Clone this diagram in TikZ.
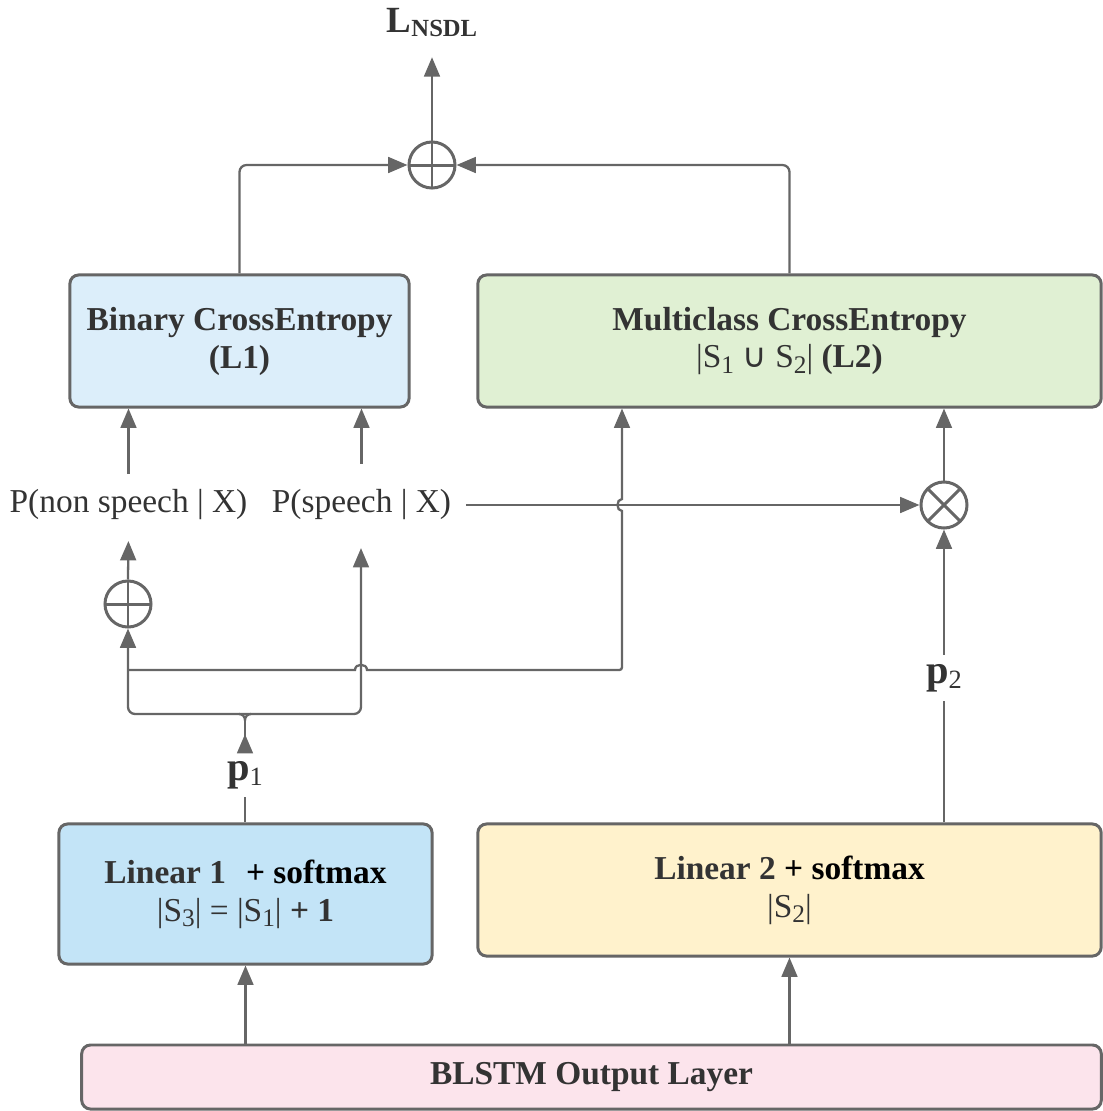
\documentclass[tikz,border=0pt]{standalone}
\usepackage{fontspec}
\setmainfont{Liberation Serif}
\newfontfamily\symfont{DejaVu Sans}
\usetikzlibrary{arrows.meta}
\definecolor{edgegray}{HTML}{666666}
\definecolor{txtgray}{HTML}{333333}
\definecolor{fillb}{HTML}{DCEEFA}
\definecolor{fillbb}{HTML}{C3E4F7}
\definecolor{fillg}{HTML}{E0F0D3}
\definecolor{filly}{HTML}{FFF2CC}
\definecolor{fillp}{HTML}{FCE4EC}
\newcommand{\subidx}[1]{\raisebox{-1.6pt}{\fontsize{7.2}{8}\selectfont #1}}
\newcommand{\plabel}[1]{{\fontsize{11.5}{12}\selectfont\bfseries p}\raisebox{-1.4pt}{\fontsize{7.5}{8}\selectfont #1}}
\tikzset{
    mybox/.style = {rectangle, rounded corners=2.5pt, line width=0.85pt, draw=edgegray, align=center, font=\fontsize{9.5}{10.8}\selectfont\bfseries, text=txtgray, inner sep=0pt},
    myboxb/.style = {mybox, fill=fillb},
    myboxbb/.style = {mybox, fill=fillbb},
    myboxg/.style = {mybox, fill=fillg},
    myboxy/.style = {mybox, fill=filly},
    myboxp/.style = {mybox, fill=fillp},
    myop/.style = {circle, line width=0.85pt, draw=edgegray, fill=white, minimum size=0.46cm, inner sep=0pt},
    myplus/.style = {myop, path picture={\draw[line width=0.85pt, edgegray] (path picture bounding box.north) -- (path picture bounding box.south) (path picture bounding box.west) -- (path picture bounding box.east);}},
    mytimes/.style = {myop, path picture={\draw[line width=0.85pt, edgegray] (path picture bounding box.north west) -- (path picture bounding box.south east) (path picture bounding box.north east) -- (path picture bounding box.south west);}},
    mytext/.style = {font=\fontsize{9.5}{11}\selectfont, text=txtgray, inner sep=4pt},
    edgen/.style = {line width=0.65pt, edgegray}
}

\begin{document}
\begin{tikzpicture}[x=0.01cm, y=-0.01cm, >={Triangle[length=5.5pt,width=4.5pt]}]
  \useasboundingbox (0,0) rectangle (1103,1111);
  % boxes
  \node[myboxb, minimum width=3.39cm, minimum height=1.32cm] (bce) at (239.5,341) {Binary CrossEntropy\\(L1)};
  \node[myboxg, minimum width=6.23cm, minimum height=1.32cm] (mce) at (789.5,341) {Multiclass CrossEntropy\\{\mdseries|S\subidx{1} {\symfont ∪} S\subidx{2}|} (L2)};
  \node[myboxbb, minimum width=3.73cm, minimum height=1.40cm] (lin1) at (245.5,894) {Linear 1\hspace{0.6em}{\color{black}+ softmax}\\{\mdseries|S\subidx{3}| = |S\subidx{1}|} + 1};
  \node[myboxy, minimum width=6.23cm, minimum height=1.32cm] (lin2) at (789.5,890) {Linear 2 {\color{black}+ softmax}\\{\mdseries|S\subidx{2}|}};
  \node[myboxp, minimum width=10.19cm, minimum height=0.64cm] (blstm) at (591.5,1077) {BLSTM Output Layer};
  % operators
  \node[myplus] (sumT) at (432,165) {};
  \node[myplus] (sumS) at (128,604) {};
  \node[mytimes] (times) at (944,505) {};
  % labels
  \node[anchor=base, inner sep=0pt, text=txtgray] (lnsdl) at (432,32) {{\fontsize{10.5}{11}\selectfont\bfseries L}\raisebox{-1.4pt}{\fontsize{7}{8}\selectfont\bfseries NSDL}};
  \node[mytext, anchor=base] (pnon) at (128.5,512) {P(non speech | X)};
  \node[mytext, anchor=base] (pspeech) at (361.5,512) {P(speech | X)};
  \node[text=txtgray, inner sep=2pt] (p1) at (245,775) {\plabel{1}};
  \node[text=txtgray, inner sep=2.5pt] (p2) at (944,678) {\plabel{2}};
  \coordinate (brL) at (128,714);
  \coordinate (brR) at (361,714);
  \coordinate (brMl) at (239,714);
  \coordinate (brMr) at (251,714);
  \coordinate (brN) at (245,720);
  \coordinate (jL) at (128,670);
  \coordinate (jR) at (622,670);
  % connectors
  \draw[edgen,->,shorten >=5.5pt] (sumT.north) -- (lnsdl.south);
  \draw[edgen,->,rounded corners=2pt] (bce.north) |- (sumT.west);
  \draw[edgen,->,rounded corners=2pt] (mce.north) |- (sumT.east);
  \draw[edgen,->] (pnon.north) -- (pnon.north |- bce.south);
  \draw[edgen,->,shorten <=3pt] (pspeech.north) -- (pspeech.north |- bce.south);
  \draw[edgen,->,shorten >=2pt] (sumS.north) -- (pnon.south);
  \draw[edgen,<->,rounded corners=2pt,shorten >=4pt] (sumS.south) -- (brL) -- (brR) -- (brR |- pspeech.south);
  \draw[edgen] (brMl) to[out=0,in=90] (brN) to[out=90,in=180] (brMr);
  \draw[edgen,>-] (p1.north) -- (brN);
  \draw[edgen] (lin1.north -| p1) -- (p1.south);
  \draw[edgen] (lin2.north -| p2) -- (p2.south);
  \draw[edgen,->] (p2.north) -- (times.south);
  \draw[edgen,->] (times.north) -- (times.north |- mce.south);
  \draw[edgen,->] (pspeech.east |- times.west) -- (times.west);
  \draw[edgen,->] (jL) -- (355,670) .. controls (355,663) and (367,663) .. (367,670)
    -- (616,670) .. controls (622,670) .. (622,664) -- (622,511)
    .. controls (616,511) and (616,499) .. (622,499) -- (jR |- mce.south);
  \draw[edgen,->] (lin1.south |- blstm.north) -- (lin1.south);
  \draw[edgen,->] (lin2.south |- blstm.north) -- (lin2.south);
\end{tikzpicture}
\end{document}
